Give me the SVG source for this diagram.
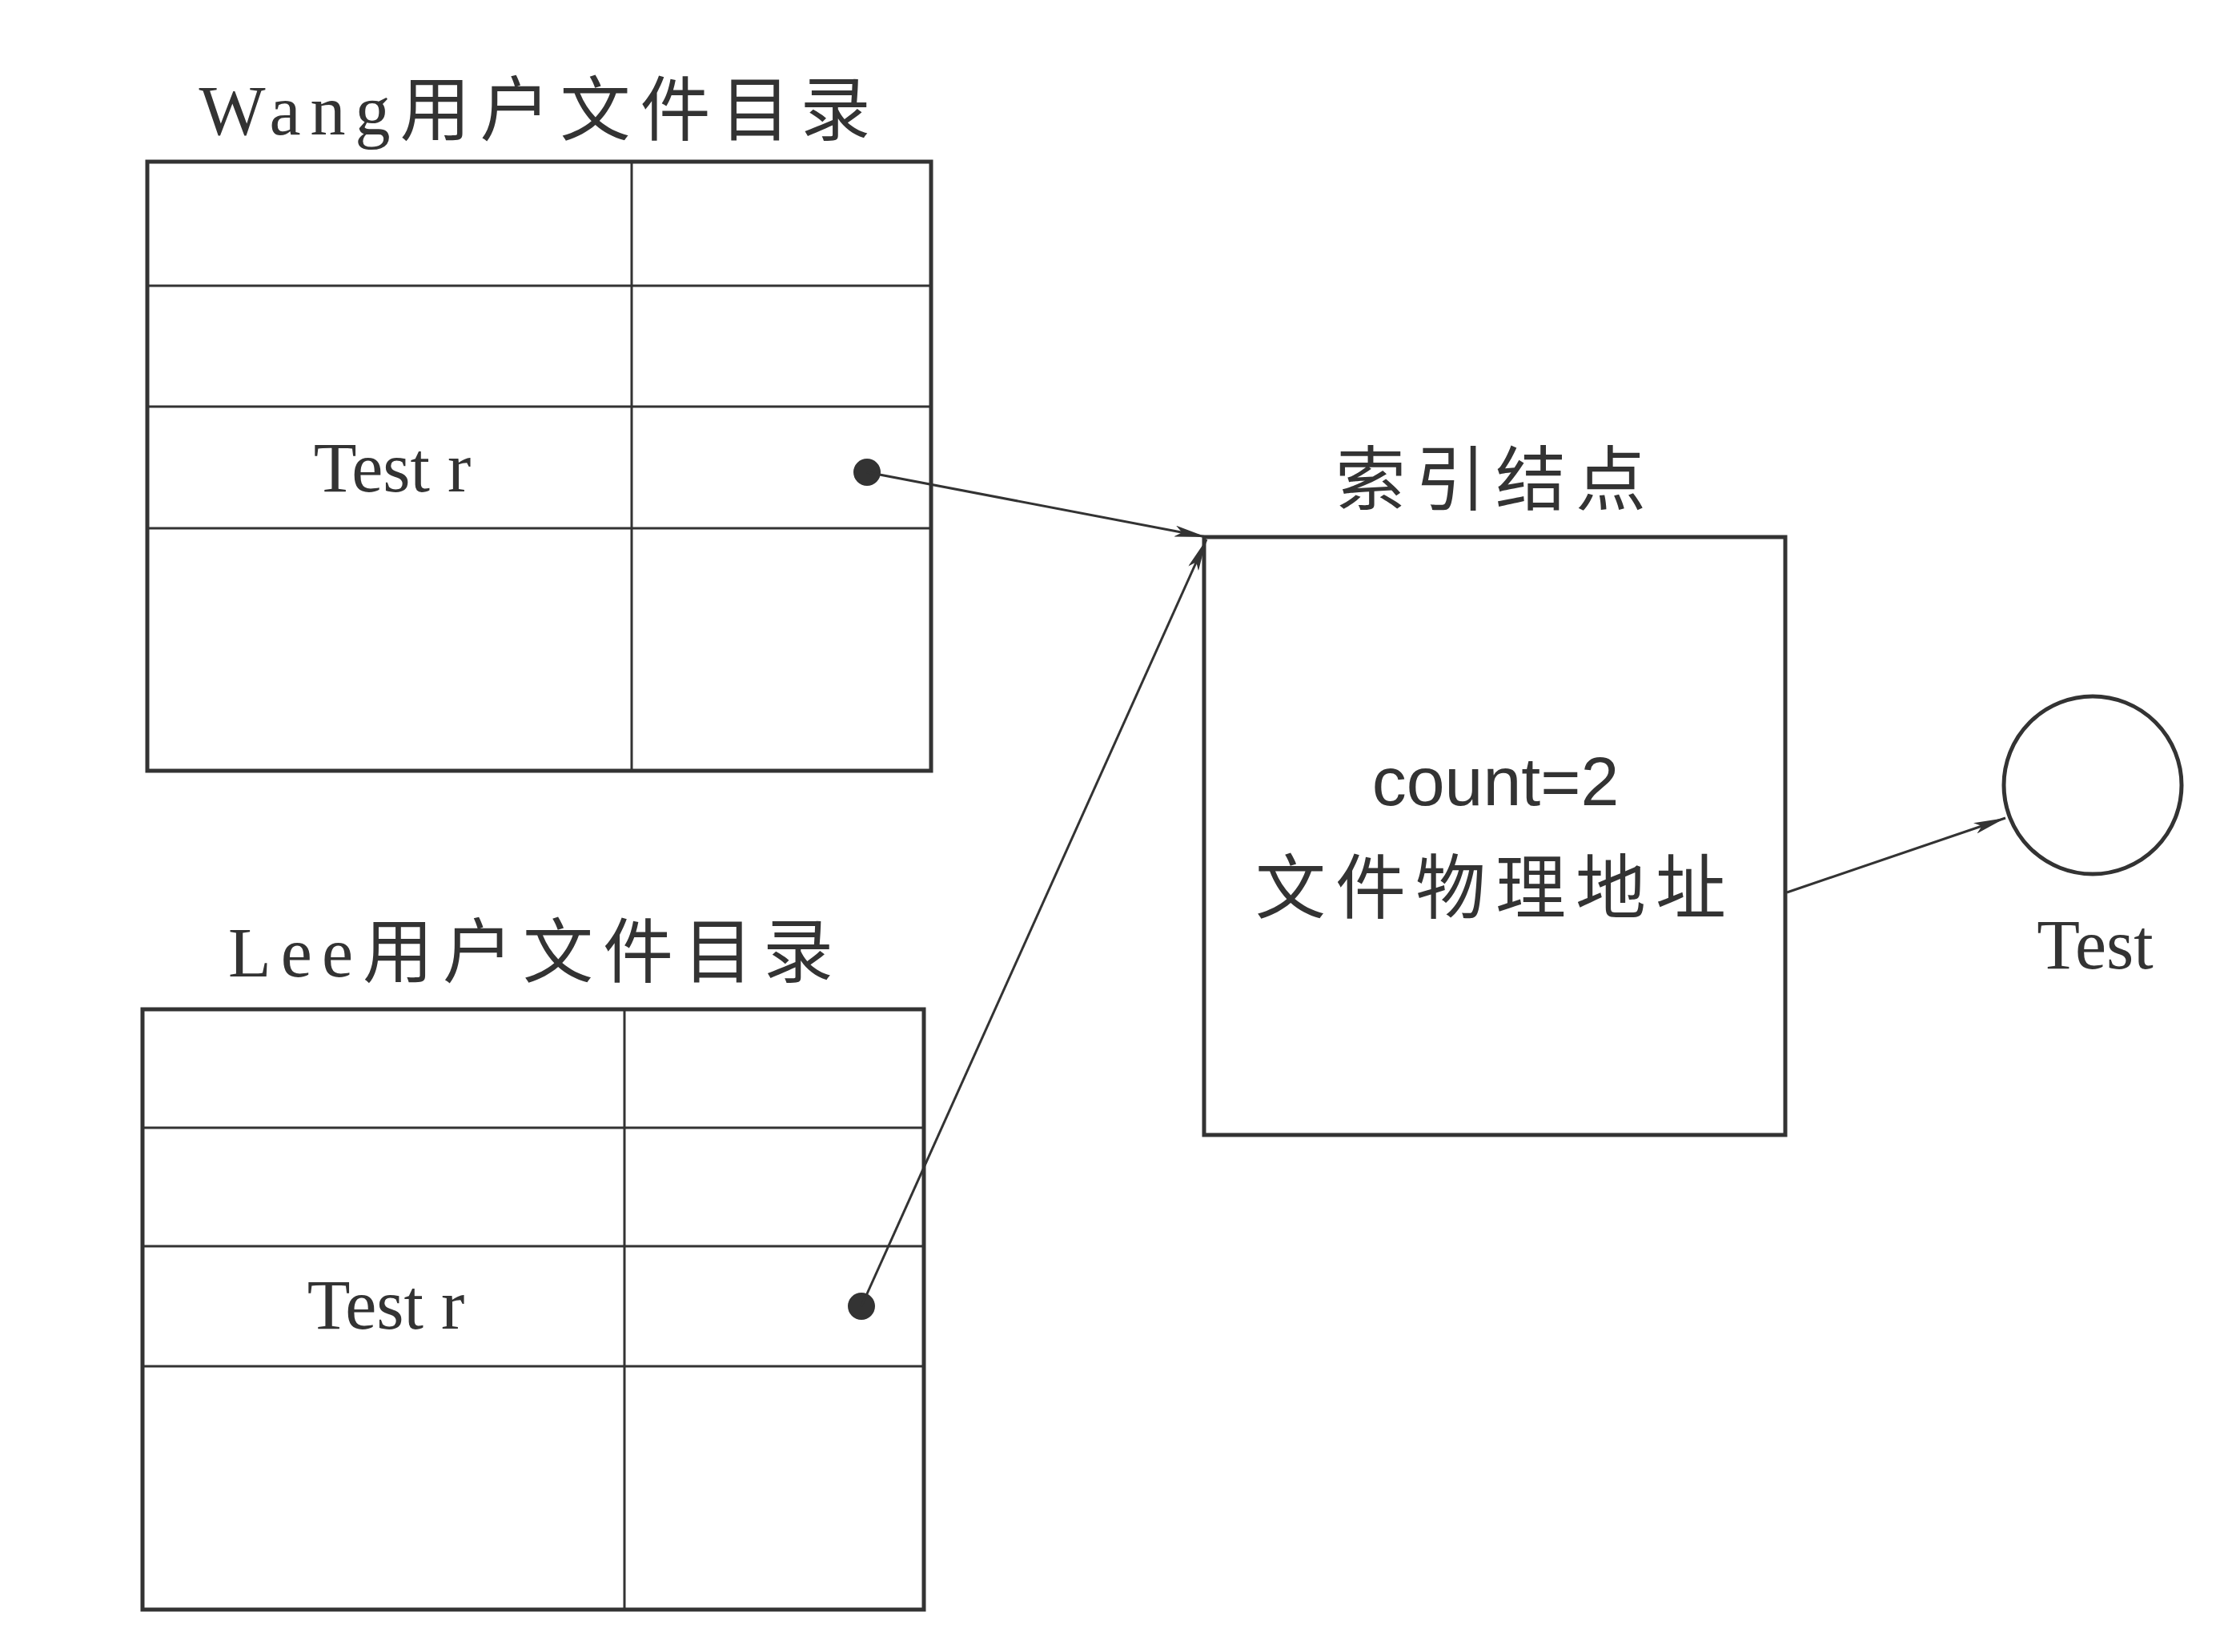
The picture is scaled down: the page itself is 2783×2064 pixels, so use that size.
<svg xmlns="http://www.w3.org/2000/svg" width="2783" height="2064" viewBox="0 0 2783 2064">
<style>
.ln{stroke:#333;stroke-width:5;fill:none}
.thin{stroke:#333;stroke-width:3;fill:none}
.t{font-family:"Liberation Serif","Noto Sans CJK SC",serif;font-size:88px;fill:#333;text-anchor:middle}
.ls{letter-spacing:12px}
.s{font-family:"Liberation Sans","Noto Sans CJK SC",sans-serif;font-size:86px;fill:#333;text-anchor:middle}
</style>
<defs>
<marker id="ah" viewBox="0 0 40 14" refX="40" refY="7" markerWidth="40" markerHeight="14" markerUnits="userSpaceOnUse" orient="auto"><path d="M0,0 L40,7 L0,14 L9,7 Z" fill="#333"/></marker>
</defs>
<rect width="2783" height="2064" fill="#fff"/>
<g id="wang">
<text class="t ls" x="674" y="168">Wang用户文件目录</text>
<rect class="ln" x="184" y="202" width="979" height="761"/>
<line class="thin" x1="184" y1="357" x2="1163" y2="357"/>
<line class="thin" x1="184" y1="508" x2="1163" y2="508"/>
<line class="thin" x1="184" y1="660" x2="1163" y2="660"/>
<line class="thin" x1="789" y1="202" x2="789" y2="963"/>
<text class="t" x="490" y="614">Test r</text>
<circle cx="1083" cy="590" r="17" fill="#333"/>
</g>
<g id="lee">
<text class="t ls" x="669" y="1220">Lee用户文件目录</text>
<rect class="ln" x="178" y="1261" width="976" height="750"/>
<line class="thin" x1="178" y1="1409" x2="1154" y2="1409"/>
<line class="thin" x1="178" y1="1557" x2="1154" y2="1557"/>
<line class="thin" x1="178" y1="1707" x2="1154" y2="1707"/>
<line class="thin" x1="780" y1="1261" x2="780" y2="2011"/>
<text class="t" x="482" y="1660">Test r</text>
<circle cx="1076" cy="1632" r="17" fill="#333"/>
</g>
<g id="inode">
<text class="t ls" x="1868" y="630">索引结点</text>
<rect class="ln" x="1504" y="671" width="726" height="747"/>
<text class="s" x="1868" y="1006">count=2</text>
<text class="t ls" x="1868" y="1140">文件物理地址</text>
</g>
<g id="file">
<circle class="ln" cx="2614" cy="981" r="111"/>
<text class="t" x="2617" y="1210">Test</text>
</g>
<g id="connectors">
<line class="thin" x1="1083" y1="590" x2="1507" y2="671" marker-end="url(#ah)"/>
<line class="thin" x1="1076" y1="1632" x2="1507" y2="674" marker-end="url(#ah)"/>
<line class="thin" x1="2232" y1="1115" x2="2505" y2="1022" marker-end="url(#ah)"/>
</g>
</svg>
